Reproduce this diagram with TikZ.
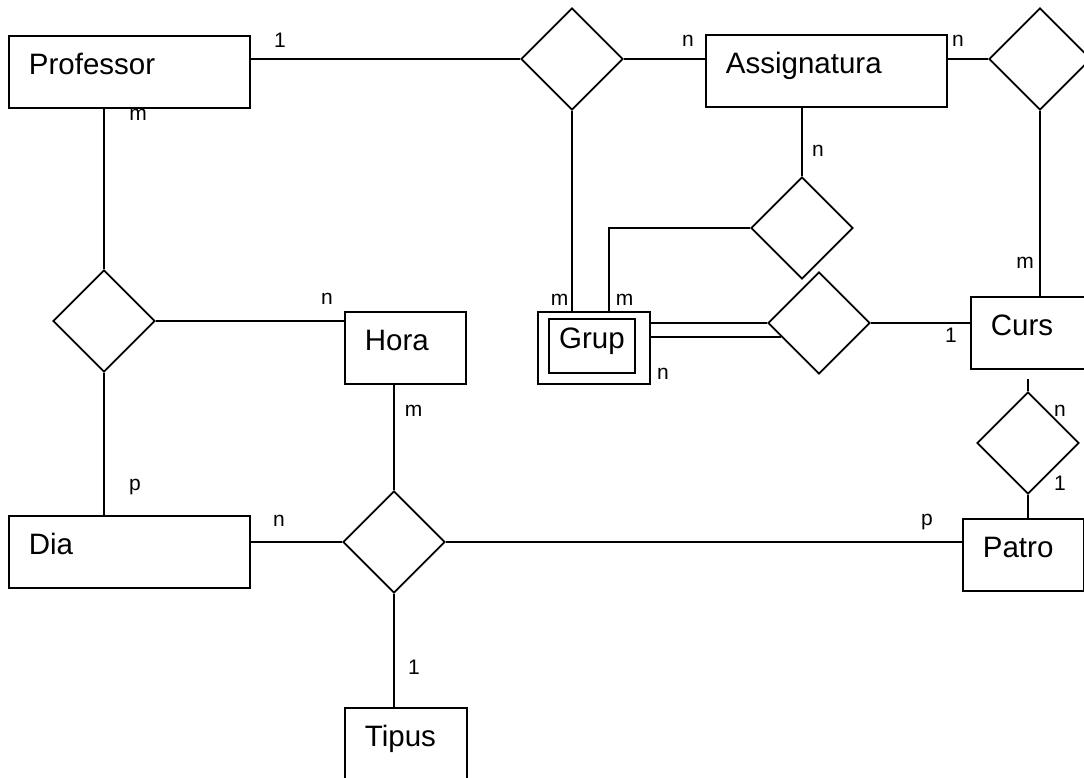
\documentclass[tikz,border=0pt]{standalone}
\usepackage{fontspec}
\setmainfont{Liberation Sans}
\usetikzlibrary{shapes.geometric}
\begin{document}
\begin{tikzpicture}[x=1pt,y=-1pt,line width=1.8pt,
 ent/.style={draw,anchor=north west,inner xsep=20pt,minimum height=72pt,text height=20pt,text depth=14pt,align=left,font=\fontsize{29.5}{31}\selectfont},
 rel/.style={draw,diamond,minimum width=102pt,minimum height=102pt,inner sep=0pt},
 card/.style={anchor=base,inner sep=0pt,font=\fontsize{21}{23}\selectfont}]
\useasboundingbox(0,0)rectangle(1084,778);
\node[ent,text width=201pt](prof)at(8,35){Professor};
\node[ent,text width=201pt](assig)at(705,34){Assignatura};
\node[ent,text width=81pt](hora)at(344,311){Hora};
\node[ent,text width=201pt](dia)at(8,515){Dia};
\node[ent,text width=100pt](curs)at(970,296){Curs};
\node[ent,text width=81pt](patro)at(962,518){Patro};
\node[ent,text width=82pt](tipus)at(344,707){Tipus};
\node[draw,anchor=north west,minimum width=112pt,minimum height=72pt](grup)at(537,311){};
\node[draw,minimum width=86pt,minimum height=54pt,inner sep=0pt,text height=21pt,text depth=17pt,font=\fontsize{29.5}{31}\selectfont](gruptxt)at(592,346){Grup};
\node[rel](r1)at(572,59){};\node[rel](r2)at(802,228){};\node[rel](r3)at(819,323){};
\node[rel](r4)at(1040,59){};\node[rel](r5)at(1028,443){};
\node[rel](r6)at(104,321){};\node[rel](r7)at(394,542){};
\coordinate(cursgap)at([yshift=-9pt]curs.south -| r5.north);
\draw(r1.west)--(r1.west -| prof.east);\draw(r1.east)--(r1.east -| assig.west);
\draw(r1.south)--(r1.south |- grup.north);
\draw(r4.west)--(r4.west -| assig.east);\draw(r4.south)--(r4.south |- curs.north);
\draw(r2.north)--(r2.north |- assig.south);\draw(r2.west)-|([xshift=15pt]grup.north);
\draw(r3.west)--(r3.west -| grup.east);\draw(r3.200.73)--(r3.200.73 -| grup.east);
\draw(r3.east)--(r3.east -| curs.west);
\draw(r5.north)--(cursgap);\draw(r5.south)--(r5.south |- patro.north);
\draw(r6.north)--(r6.north |- prof.south);\draw(r6.east)--(r6.east -| hora.west);\draw(r6.south)--(r6.south |- dia.north);
\draw(r7.north)--(r7.north |- hora.south);\draw(r7.west)--(r7.west -| dia.east);
\draw(r7.east)--(r7.east -| patro.west);\draw(r7.south)--(r7.south |- tipus.north);
\node[card](c1)at(280,48){1};\node[card](c2)at(138,121){m};
\node[card](c3)at(688,47){n};\node[card](c4)at(958,47){n};
\node[card](c5)at(818,157){n};\node[card](c6)at(1025,268){m};
\node[card](c7)at(559.5,305){m};\node[card](c8)at(624.5,305){m};
\node[card](c9)at(663,379){n};\node[card](c10)at(951,342){1};
\node[card](c11)at(1060,416){n};\node[card](c12)at(1060,490){1};
\node[card](c13)at(927,525){p};\node[card](c14)at(327,304){n};
\node[card](c15)at(413.5,416){m};\node[card](c16)at(135,490){p};
\node[card](c17)at(279,526){n};\node[card](c18)at(414,674){1};
\end{tikzpicture}
\end{document}
